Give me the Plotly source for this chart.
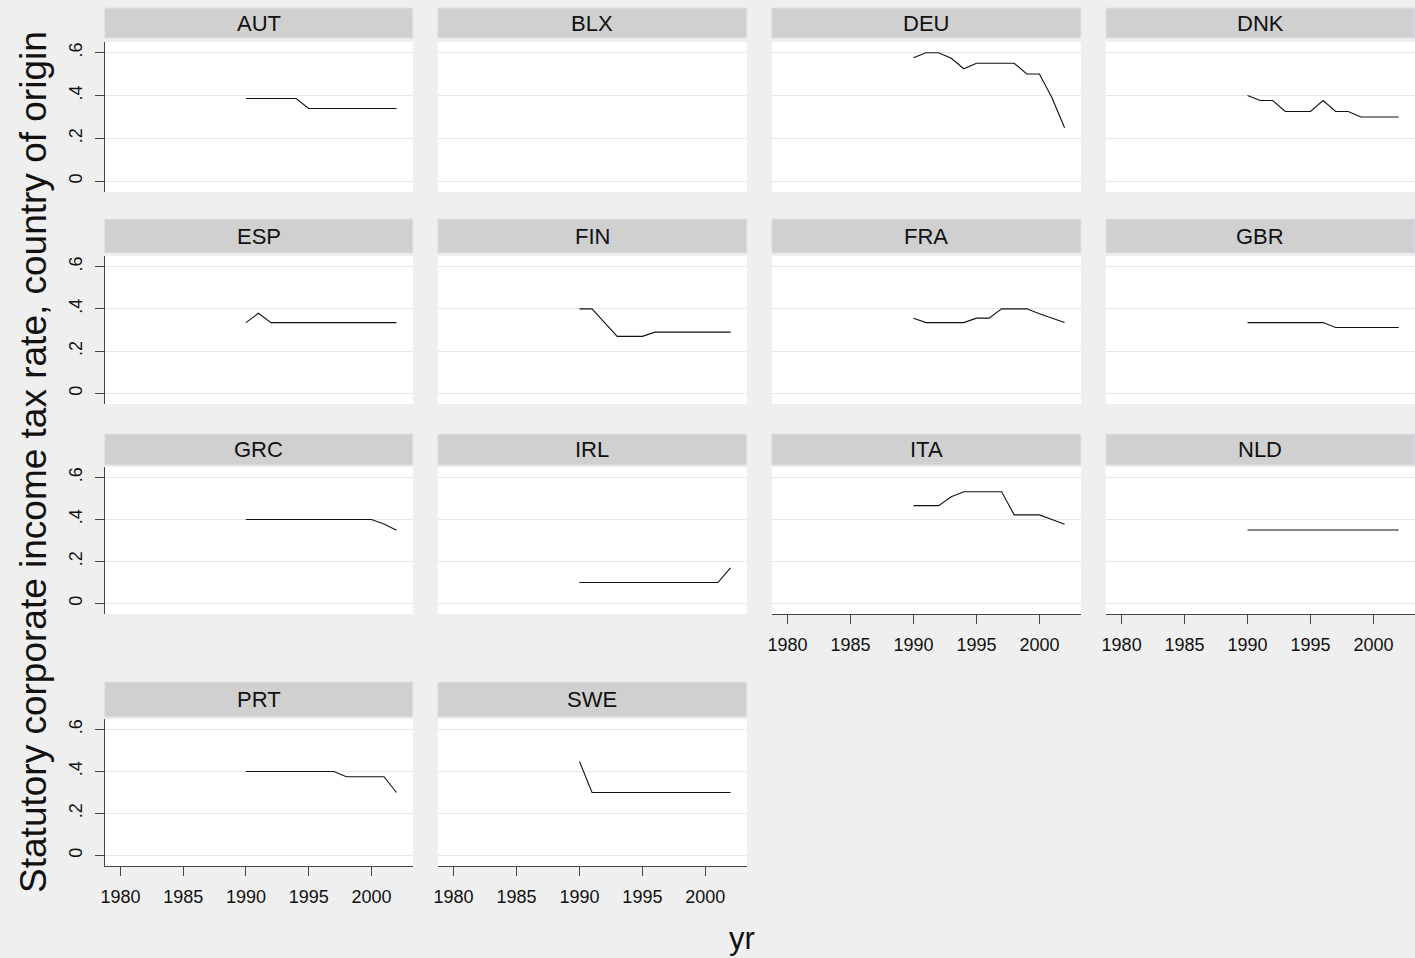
import plotly.graph_objects as go
from plotly.subplots import make_subplots

# ---------------- data ----------------
countries = ["AUT", "BLX", "DEU", "DNK", "ESP", "FIN", "FRA", "GBR",
             "GRC", "IRL", "ITA", "NLD", "PRT", "SWE"]
years = [1990, 1991, 1992, 1993, 1994, 1995, 1996, 1997, 1998, 1999, 2000, 2001, 2002]

AUT = [0.386, 0.386, 0.386, 0.386, 0.386, 0.34, 0.34, 0.34, 0.34, 0.34, 0.34, 0.34, 0.34]
BLX = []
DEU = [0.576, 0.60, 0.60, 0.574, 0.525, 0.551, 0.551, 0.551, 0.551, 0.501, 0.501, 0.39, 0.25]
DNK = [0.40, 0.377, 0.377, 0.326, 0.326, 0.326, 0.377, 0.326, 0.326, 0.30, 0.30, 0.30, 0.30]
ESP = [0.335, 0.379, 0.335, 0.335, 0.335, 0.335, 0.335, 0.335, 0.335, 0.335, 0.335, 0.335, 0.335]
FIN = [0.40, 0.40, 0.335, 0.27, 0.27, 0.27, 0.29, 0.29, 0.29, 0.29, 0.29, 0.29, 0.29]
FRA = [0.356, 0.335, 0.335, 0.335, 0.335, 0.356, 0.356, 0.40, 0.40, 0.40, 0.377, 0.356, 0.335]
GBR = [0.335, 0.335, 0.335, 0.335, 0.335, 0.335, 0.335, 0.312, 0.312, 0.312, 0.312, 0.312, 0.312]
GRC = [0.40, 0.40, 0.40, 0.40, 0.40, 0.40, 0.40, 0.40, 0.40, 0.40, 0.40, 0.379, 0.349]
IRL = [0.10, 0.10, 0.10, 0.10, 0.10, 0.10, 0.10, 0.10, 0.10, 0.10, 0.10, 0.10, 0.17]
ITA = [0.466, 0.466, 0.466, 0.508, 0.532, 0.532, 0.532, 0.532, 0.422, 0.422, 0.422, 0.40, 0.377]
NLD = [0.35, 0.35, 0.35, 0.35, 0.35, 0.35, 0.35, 0.35, 0.35, 0.35, 0.35, 0.35, 0.35]
PRT = [0.40, 0.40, 0.40, 0.40, 0.40, 0.40, 0.40, 0.40, 0.375, 0.375, 0.375, 0.375, 0.30]
SWE = [0.448, 0.30, 0.30, 0.30, 0.30, 0.30, 0.30, 0.30, 0.30, 0.30, 0.30, 0.30, 0.30]

series = {"AUT": AUT, "BLX": BLX, "DEU": DEU, "DNK": DNK, "ESP": ESP, "FIN": FIN,
          "FRA": FRA, "GBR": GBR, "GRC": GRC, "IRL": IRL, "ITA": ITA, "NLD": NLD,
          "PRT": PRT, "SWE": SWE}

x_ticks = [1980, 1985, 1990, 1995, 2000]
x_ticklabels = ["1980", "1985", "1990", "1995", "2000"]
y_ticks = [0, 0.2, 0.4, 0.6]
y_ticklabels = ["0", ".2", ".4", ".6"]
y_title = "Statutory corporate income tax rate, country of origin"
x_title = "yr"

# ---------------- layout geometry (pixels) ----------------
W, H = 1415, 958
col_px = [(101, 410), (435, 745), (770, 1080), (1105, 1415)]
row_plot_px = [(42, 192), (256, 404), (467, 614), (719, 866)]
row_head_px = [(8, 38), (219, 253), (434, 465), (682, 717)]

FONT = "Liberation Sans, Arial, Helvetica, sans-serif"
BG = "#efefef"
HEAD = "#d0d0d0"
GRID = "#e6e6e6"
AXC = "#444444"

fig = make_subplots(rows=4, cols=4)

shapes = []
annotations = []

for i in range(16):
    r, c = divmod(i, 4)
    k = i + 1
    xa = "xaxis" if k == 1 else f"xaxis{k}"
    ya = "yaxis" if k == 1 else f"yaxis{k}"
    x0, x1 = col_px[c]
    yt, yb = row_plot_px[r]
    dom_x = [x0 / W, x1 / W]
    dom_y = [1 - yb / H, 1 - yt / H]
    if i >= len(countries):
        fig.layout[xa].update(domain=dom_x, visible=False)
        fig.layout[ya].update(domain=dom_y, visible=False)
        continue
    name = countries[i]
    vals = series[name]
    fig.add_trace(go.Scatter(x=years[:len(vals)], y=vals, mode="lines",
                             line=dict(color="#111111", width=1.1),
                             showlegend=False, hoverinfo="x+y"),
                  row=r + 1, col=c + 1)
    bottom = (r == 3) or (r == 2 and c >= 2)
    left = (c == 0)
    fig.layout[xa].update(
        domain=dom_x, range=[1978.75, 2003.3], tickvals=x_ticks, ticktext=x_ticklabels,
        showgrid=False, zeroline=False,
        showline=bottom, linecolor=AXC, linewidth=1.2,
        ticks="outside" if bottom else "", ticklen=9, tickcolor=AXC, tickwidth=1,
        showticklabels=bottom, ticklabelstandoff=5,
        tickfont=dict(family=FONT, size=18, color="#111111"),
    )
    fig.layout[ya].update(
        domain=dom_y, range=[-0.05, 0.65], tickvals=y_ticks, ticktext=y_ticklabels,
        showgrid=True, gridcolor=GRID, gridwidth=1, zeroline=False,
        showline=left, linecolor=AXC, linewidth=1.2,
        ticks="outside" if left else "", ticklen=9, tickcolor=AXC, tickwidth=1,
        showticklabels=left, tickangle=-90, ticklabelstandoff=5,
        tickfont=dict(family=FONT, size=18, color="#111111"),
    )
    # header strip
    hy0, hy1 = row_head_px[r]
    shapes.append(dict(type="rect", xref="paper", yref="paper",
                       x0=x0 / W, x1=x1 / W, y0=1 - hy1 / H, y1=1 - hy0 / H,
                       fillcolor=HEAD, line=dict(color="#dde1e8", width=1), layer="below"))
    annotations.append(dict(text=name, xref="paper", yref="paper",
                            x=(x0 + x1) / 2 / W, y=1 - (hy0 + hy1) / 2 / H,
                            xanchor="center", yanchor="middle", showarrow=False,
                            font=dict(family=FONT, size=22, color="#111111")))

annotations.append(dict(text=y_title, xref="paper", yref="paper",
                        x=30 / W, y=1 - 462 / H, textangle=-90,
                        xanchor="center", yanchor="middle", showarrow=False,
                        font=dict(family=FONT, size=37, color="#111111")))
annotations.append(dict(text=x_title, xref="paper", yref="paper",
                        x=740 / W, y=1 - 938 / H,
                        xanchor="center", yanchor="middle", showarrow=False,
                        font=dict(family=FONT, size=31, color="#111111")))

fig.update_layout(
    width=W, height=H, margin=dict(l=0, r=0, t=0, b=0),
    paper_bgcolor=BG, plot_bgcolor="white",
    shapes=shapes, annotations=annotations, showlegend=False,
)

fig.write_html(
    "out.html",
    config={"displayModeBar": False},
    post_script="document.body.style.margin='0';document.body.style.padding='0';"
                "document.body.style.overflow='hidden';document.body.style.background='#efefef';",
)
